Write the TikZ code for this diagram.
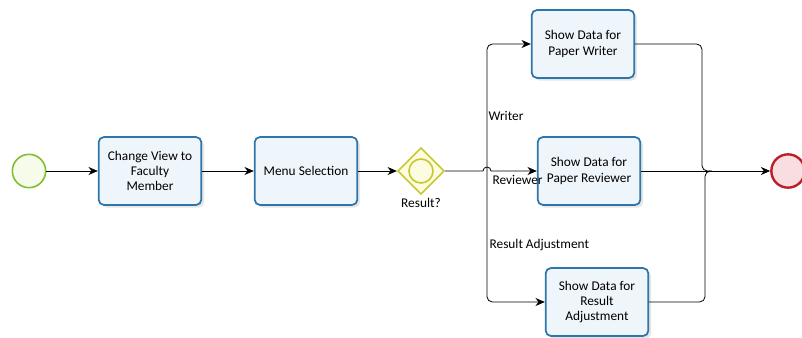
\documentclass[tikz,border=0pt]{standalone}
\usepackage{fontspec}
\setmainfont{Carlito}
\usetikzlibrary{arrows.meta,shapes.geometric,shadows,positioning}

\definecolor{taskline}{RGB}{46,117,170}
\definecolor{taskfill}{RGB}{238,245,251}
\definecolor{startline}{RGB}{130,190,50}
\definecolor{startfill}{RGB}{246,251,236}
\definecolor{endline}{RGB}{190,30,40}
\definecolor{endfill}{RGB}{248,222,224}
\definecolor{gwline}{RGB}{200,200,50}
\definecolor{gwfill}{RGB}{252,252,224}

\tikzset{
  task/.style={draw=taskline, line width=1.3pt, fill=taskfill, rounded corners=4pt,
    minimum width=77pt, minimum height=51pt, align=center, inner sep=1pt,
    drop shadow={shadow xshift=2pt, shadow yshift=-2pt, opacity=0.2},
    font=\fontsize{10}{11.5}\selectfont},
  flow/.style={-{Stealth[length=7pt,width=6pt]}, line width=0.6pt},
  lbl/.style={font=\fontsize{10}{11.5}\selectfont, inner sep=1pt}
}

\begin{document}
\begin{tikzpicture}[x=0.75pt,y=-0.75pt]
  \useasboundingbox (0,0) rectangle (802,338);

  % 1) events
  \node[circle, draw=startline, fill=startfill, line width=1.2pt, minimum size=25pt] (start) at (29,171) {};
  \node[circle, draw=endline, fill=endfill, line width=1.8pt, minimum size=25pt] (finish) at (788,171) {};

  % 2) tasks
  \node[task] (change) at (150,171) {Change View to\\Faculty\\Member};
  \node[task] (menu)   at (306,171) {Menu Selection};
  \node[task] (writer)   at (583,44)  {Show Data for\\Paper Writer};
  \node[task] (reviewer) at (589,171) {Show Data for\\Paper Reviewer};
  \node[task] (adjust)   at (597,302) {Show Data for\\Result\\Adjustment};

  % 3) gateway
  \node[diamond, draw=gwline, fill=gwfill, line width=1.2pt, minimum size=35pt, inner sep=0pt] (gw) at (421,171) {};
  \node[circle, draw=gwline, line width=1.2pt, minimum size=18pt] (gwring) at (gw) {};
  \node[lbl, below=1pt of gw] (gwlbl) {Result?};

  % fork and join points
  \coordinate (fork) at (487,171);
  \coordinate (joinw) at (702,44);
  \coordinate (joina) at (705,302);

  % 4) flows
  \draw[flow] (start) -- (change);
  \draw[flow] (change) -- (menu);
  \draw[flow] (menu) -- (gw);
  \draw[flow] (gw.east) -- ([xshift=-3pt]fork) arc (180:0:3pt) -- (reviewer.west);
  \draw[flow, rounded corners=4pt] (fork) |- (writer.west);
  \draw[flow, rounded corners=4pt] (fork) |- (adjust.west);
  \draw[rounded corners=4pt, line width=0.6pt] (writer.east) -- (joinw) |- ([xshift=6pt]joinw |- fork);
  \draw[rounded corners=4pt, line width=0.6pt] (adjust.east) -- (joina) |- ([xshift=3pt]joina |- fork);
  \draw[flow] (reviewer.east) -- (finish);

  % 5) branch labels
  \node[lbl, anchor=west] (lblw) at (487,116) {Writer};
  \node[lbl, anchor=west] (lblr) at (491,180) {Reviewer};
  \node[lbl, anchor=west] (lbla) at (488,245) {Result Adjustment};
\end{tikzpicture}
\end{document}
